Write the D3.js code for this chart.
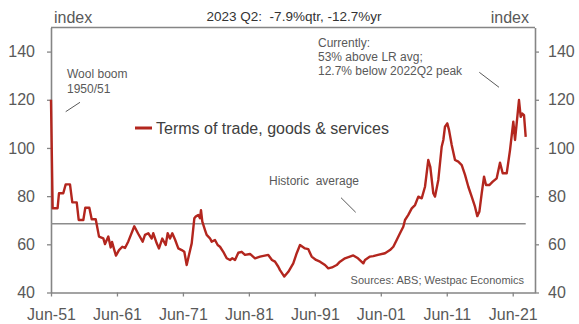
<!DOCTYPE html>
<html>
<head>
<meta charset="utf-8">
<script src="https://cdn.jsdelivr.net/npm/d3@7"></script>
<style>
  body { margin: 0; background: #fff; }
  svg { display: block; font-family: "Liberation Sans", Arial, sans-serif; }
</style>
</head>
<body>
<div id="chart"></div>
<script>
// terms of trade index (decimal years)
const years = [
  1951.5, 1951.75, 1952.5, 1952.71, 1953.36, 1953.73, 1954.38, 1954.73, 1955.4, 1955.7,
  1956.4, 1956.7, 1957.31, 1957.67, 1958.28, 1958.78, 1959.43, 1959.69, 1960.19, 1960.55,
  1960.75, 1961.1, 1961.35, 1961.81, 1962.31, 1962.72, 1963.22, 1964.13, 1964.7, 1965.4,
  1965.75, 1966.25, 1966.77, 1967.0, 1967.53, 1967.87, 1968.37, 1968.89, 1969.19, 1969.54,
  1969.89, 1970.3, 1970.8, 1971.32, 1971.71, 1972.07, 1972.42, 1972.83, 1973.23, 1973.44,
  1973.83, 1974.09, 1974.24, 1974.44, 1974.85, 1975.1, 1975.6, 1975.86, 1976.36, 1976.77,
  1977.12, 1977.62, 1978.14, 1978.64, 1978.99, 1979.4, 1979.9, 1980.41, 1980.91, 1981.67,
  1982.43, 1983.19, 1984.44, 1985.0, 1985.46, 1985.96, 1986.22, 1986.87, 1987.48, 1988.23,
  1988.75, 1989.25, 1990.01, 1990.51, 1991.02, 1991.68, 1992.28, 1993.04, 1993.54, 1994.1,
  1994.81, 1995.31, 1996.07, 1997.33, 1998.04, 1998.85, 1999.1, 1999.86, 2000.36, 2001.07,
  2002.14, 2002.89, 2003.4, 2003.91, 2004.41, 2004.91, 2005.17, 2005.67, 2006.19, 2006.69,
  2007.19, 2007.7, 2008.2, 2008.7, 2009.0, 2009.46, 2009.72, 2010.22, 2010.73, 2010.98,
  2011.23, 2011.58, 2011.84, 2012.25, 2012.75, 2013.25, 2013.77, 2014.27, 2014.77, 2015.28,
  2015.78, 2016.13, 2016.44, 2016.8, 2017.15, 2017.45, 2017.95, 2018.47, 2019.07, 2019.57,
  2019.98, 2020.59, 2021.09, 2021.59, 2021.85, 2022.1, 2022.45, 2022.71, 2022.95, 2023.21,
  2023.47
];
const tot = [
  120, 75, 75, 81.2, 81.2, 84.9, 84.9, 77.4, 77.4, 70.1,
  70.1, 75.2, 75.2, 70.4, 70.4, 63.2, 62.5, 60.1, 63.2, 58.7,
  61, 57.6, 55.3, 57.6, 59, 58.5, 61.2, 67.5, 64.5, 61.1,
  63.9, 64.6, 62.4, 64.6, 60.4, 58.3, 62.4, 59.7, 64.6, 62.4,
  64.6, 62, 58.3, 57.6, 56.9, 51.4, 55.6, 60.4, 70.8, 71.5,
  72.2, 70.8, 74.2, 69.4, 65.9, 63.9, 62.5, 61.1, 61.8, 59.7,
  59, 56.9, 54.2, 53.5, 54.2, 53.5, 56.5, 56.9, 55.6, 56,
  54.2, 54.9, 55.6, 53.5, 52.8, 50.7, 49.3, 46.6, 48.6, 52.1,
  56.3, 59.7, 58.3, 58, 54.9, 53.5, 52.8, 51.4, 50, 50.4,
  51.4, 52.8, 54.2, 55.4, 54.2, 52.1, 53.5, 54.9, 55.1, 55.6,
  56.3, 57.6, 59, 61.8, 64.6, 67.3, 70.1, 72.2, 74.9, 76.3,
  79.8, 79.1, 83.9, 95, 92.2, 81.2, 79.8, 86.7, 100.5, 103.3,
  108.8, 110.2, 107.5, 101.2, 95, 94.3, 92.9, 88.8, 83.9, 79.8,
  75.6, 71.7, 73.5, 81.2, 88.1, 84.6, 84.6, 86, 87.4, 93.9,
  89.5, 89.5, 99.1, 110.9, 103.3, 110.2, 119.9, 112.9, 114.3, 113.6,
  104.6
];
const historicAvg = 68.5;
const yTicks = [40, 60, 80, 100, 120, 140];
const xTicks = [1951.5, 1961.5, 1971.5, 1981.5, 1991.5, 2001.5, 2011.5, 2021.5];
const xTickLabels = ['Jun-51', 'Jun-61', 'Jun-71', 'Jun-81', 'Jun-91', 'Jun-01', 'Jun-11', 'Jun-21'];

const W = 579, H = 324;
const plotL = 51, plotR = 535, plotT = 27.5, plotB = 292.5;
const red = '#b3261e';
const axisGrey = '#858585';
const textGrey = '#595959';

const svg = d3.select('#chart').append('svg').attr('width', W).attr('height', H);

const x = d3.scaleLinear().domain([1951.5, 1951.5 + (plotR - plotL) / 6.596]).range([plotL, plotR]);
const y = d3.scaleLinear().domain([40, 150]).range([plotB, plotT]);

// frame top edge
svg.append('line')
  .attr('x1', plotL).attr('x2', plotR).attr('y1', plotT).attr('y2', plotT)
  .attr('stroke', axisGrey).attr('stroke-width', 1.3);

// axes
const styleAxis = g => {
  g.select('.domain').attr('stroke', axisGrey).attr('stroke-width', 1.6);
  g.selectAll('.tick line').attr('stroke', axisGrey).attr('stroke-width', 1.3);
  g.selectAll('.tick text').attr('fill', textGrey).attr('font-size', 16)
    .attr('font-family', '"Liberation Sans", Arial, sans-serif');
};

svg.append('g')
  .attr('transform', `translate(${plotL},0)`)
  .call(d3.axisLeft(y).tickValues(yTicks).tickSize(4).tickSizeOuter(0).tickPadding(12))
  .call(styleAxis);

svg.append('g')
  .attr('transform', `translate(${plotR},0)`)
  .call(d3.axisRight(y).tickValues(yTicks).tickSize(4).tickSizeOuter(0).tickPadding(9))
  .call(styleAxis);

svg.append('g')
  .attr('transform', `translate(0,${plotB})`)
  .call(d3.axisBottom(x).tickValues(xTicks).tickFormat((d, i) => xTickLabels[i])
    .tickSize(4).tickSizeOuter(0).tickPadding(12))
  .call(styleAxis);

// historic average
svg.append('line')
  .attr('x1', x(years[0])).attr('x2', x(years[years.length - 1]))
  .attr('y1', y(historicAvg)).attr('y2', y(historicAvg))
  .attr('stroke', '#8c8c8c').attr('stroke-width', 1.5);

// series
const line = d3.line().x((d, i) => x(years[i])).y(d => y(d));
svg.append('path')
  .datum(tot)
  .attr('d', line)
  .attr('fill', 'none')
  .attr('stroke', red)
  .attr('stroke-width', 2.4)
  .attr('stroke-linejoin', 'round');

// header labels
svg.append('text').attr('x', 54).attr('y', 23).attr('font-size', 16).attr('fill', textGrey).text('index');
svg.append('text').attr('x', 529).attr('y', 23).attr('text-anchor', 'end').attr('font-size', 16).attr('fill', textGrey).text('index');
svg.append('text').attr('x', 294).attr('y', 21).attr('text-anchor', 'middle').attr('font-size', 13.5)
  .attr('fill', '#333').attr('xml:space', 'preserve').text('2023 Q2:  -7.9%qtr, -12.7%yr');

// legend
svg.append('line').attr('x1', 135).attr('x2', 152).attr('y1', 128).attr('y2', 128)
  .attr('stroke', red).attr('stroke-width', 3);
svg.append('text').attr('x', 156).attr('y', 134).attr('font-size', 16).attr('fill', '#404040')
  .text('Terms of trade, goods & services');

// annotations
const note = (lines, x0, y0, step) => {
  lines.forEach((t, i) => {
    svg.append('text').attr('x', x0).attr('y', y0 + i * step).attr('font-size', 12)
      .attr('fill', textGrey).attr('xml:space', 'preserve').text(t);
  });
};
note(['Wool boom', '1950/51'], 67, 78, 15);
note(['Currently:', '53% above LR avg;', '12.7% below 2022Q2 peak'], 318, 47, 14);
note(['Historic  average'], 269, 185, 0);

const pointer = (x1, y1, x2, y2) => svg.append('line')
  .attr('x1', x1).attr('y1', y1).attr('x2', x2).attr('y2', y2)
  .attr('stroke', '#595959').attr('stroke-width', 1);
pointer(65.7, 111.7, 80, 102.3);
pointer(341, 197.7, 355.7, 212.3);
pointer(479.3, 72.3, 499, 87.3);

svg.append('text').attr('x', 524).attr('y', 284).attr('text-anchor', 'end').attr('font-size', 11)
  .attr('fill', textGrey).text('Sources: ABS; Westpac Economics');
</script>
</body>
</html>
